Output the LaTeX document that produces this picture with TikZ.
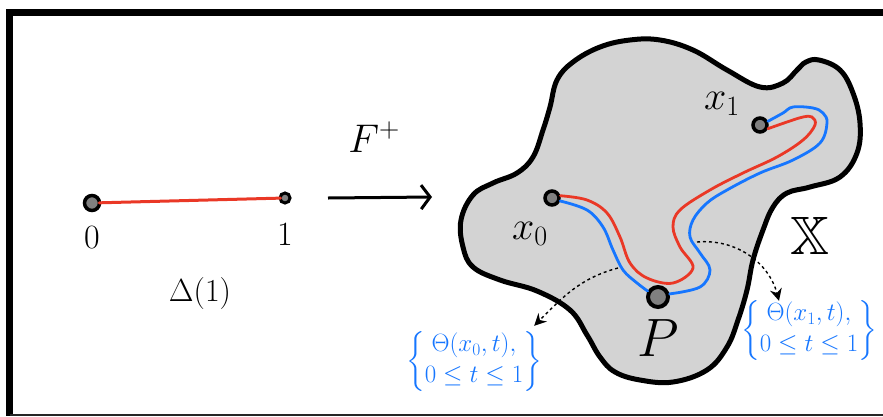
\RequirePackage{fix-cm}
\documentclass[tikz,border=0pt]{standalone}
\usepackage{amsmath,amssymb}
\usepackage{xcolor}
\usepackage{tikz}
\usetikzlibrary{positioning,arrows.meta}
\DeclareFontFamily{U}{msb}{}
\DeclareFontShape{U}{msb}{m}{n}{<-> msbm10}{}
\definecolor{blobcolor}{RGB}{211,211,211}
\definecolor{dotcolor}{RGB}{128,128,128}
\definecolor{pathred}{RGB}{234,56,38}
\definecolor{pathblue}{RGB}{22,118,255}

\begin{document}
\begin{tikzpicture}[x=1pt, y=-1pt,
  dot/.style={circle, draw, line width=3.5pt, fill=dotcolor, inner sep=0pt, minimum size=12pt},
  bigdot/.style={dot, line width=4pt, minimum size=20pt},
  redpath/.style={pathred, line width=2.8pt, line cap=round},
  bluepath/.style={pathblue, line width=2.8pt, line cap=round},
  maparrow/.style={line width=3pt, -{Straight Barb[length=9pt, width=24pt, line width=3pt]}},
  dasharrow/.style={dashed, line width=1.4pt, -{Stealth[length=12pt, width=12pt]}},
  lab/.style={font=\fontsize{#1}{#1}\selectfont, inner sep=0pt},
  bluelab/.style={font=\fontsize{25}{31}\selectfont, text=pathblue, inner sep=0pt},
]
\useasboundingbox (0,0) rectangle (883,416);

% frame
\draw[line width=6.5pt] (883,12.5) -- (9.5,12.5) -- (9.5,416);
\draw[line width=2pt, black!85] (9.5,414.5) -- (883,414.5);

% interval Delta(1)
\node[dot, minimum size=15pt] (d0) at (92,203) {};
\node[dot, minimum size=10pt, line width=3pt] (d1) at (285,198) {};
\draw[redpath, line width=3pt, shorten <=-2pt, shorten >=-2pt] (d0) -- (d1);
\node[lab=34] (l0) at (92,238) {$0$};
\node[lab=34] (l1) at (285,235) {$1$};
\node[lab=32] (delta) at (200,293) {$\Delta(1)$};

% the map F^+
\coordinate (fstart) at (328,198);
\coordinate (fend) at (432,197);
\draw[maparrow] (fstart) -- (fend);
\node[lab=40] (fmap) at (374,137) {$F^{+}$};

% the space X
\filldraw[fill=blobcolor, line width=5pt] plot[smooth cycle, tension=0.65] coordinates {
  (660,40) (693,50) (727,70) (760,87) (783,83) (797,70) (806,62) (819,60)
  (840,70) (853,93) (860,123) (857,153) (840,177) (810,187) (787,193)
  (773,207) (763,230) (753,260) (747,290) (738,320) (727,347) (707,370)
  (673,382) (640,380) (615,372) (600,357) (587,335) (570,310) (537,291)
  (500,280) (473,267) (463,247) (461,220) (473,195) (493,183) (517,173)
  (533,157) (543,130) (550,107) (557,80) (573,62) (600,47) (630,40)};

\node[dot, minimum size=14pt] (x0) at (552,198) {};
\node[dot, minimum size=14pt] (x1) at (760,125) {};
\node[bigdot] (p) at (658,297) {};

% paths in X
\draw[redpath] plot[smooth, tension=0.6] coordinates {
  (x0.15) (587,200) (607,213) (620,237) (630,263) (647,278) (673,283)
  (693,268) (680,247) (673,227) (680,210) (710,190) (743,173) (777,157)
  (803,140) (815,125) (812,117) (803,117) (787,122) (x1.-25)};
\draw[bluepath] plot[smooth, tension=0.6] coordinates {
  (x0.-20) (587,210) (603,227) (613,250) (623,270) (637,283) (p.150)};
\draw[bluepath] plot[smooth, tension=0.6] coordinates {
  (p.15) (700,287) (710,270) (700,253) (690,237) (693,220) (707,203)
  (727,190) (760,173) (793,160) (820,143) (827,123) (823,113) (813,108)
  (793,107) (783,113) (x1.25)};

\node[lab=40] (lx0) at (530,234) {$x_0$};
\node[lab=40] (lx1) at (722,104) {$x_1$};
\node[lab=54] (lp) at (658,338) {$P$};
\node[lab=54] (lX) at (810,236) {$\mathbb{X}$};

% homotopies
\node[bluelab] (th0) at (474,361)
  {$\left\{\begin{array}{@{}c@{}}\Theta(x_0,t),\\ 0\le t\le 1\end{array}\right\}$};
\node[bluelab] (th1) at (809,330)
  {$\left\{\begin{array}{@{}c@{}}\Theta(x_1,t),\\ 0\le t\le 1\end{array}\right\}$};
\coordinate (s0) at (618,268);
\coordinate (s1) at (697,242);
\draw[dasharrow] (s0) to[out=195, in=45] ([xshift=-8pt, yshift=4pt]th0.north east);
\draw[dasharrow] (s1) to[out=5, in=105] ([xshift=-30pt, yshift=-2pt]th1.north);

\end{tikzpicture}
\end{document}
